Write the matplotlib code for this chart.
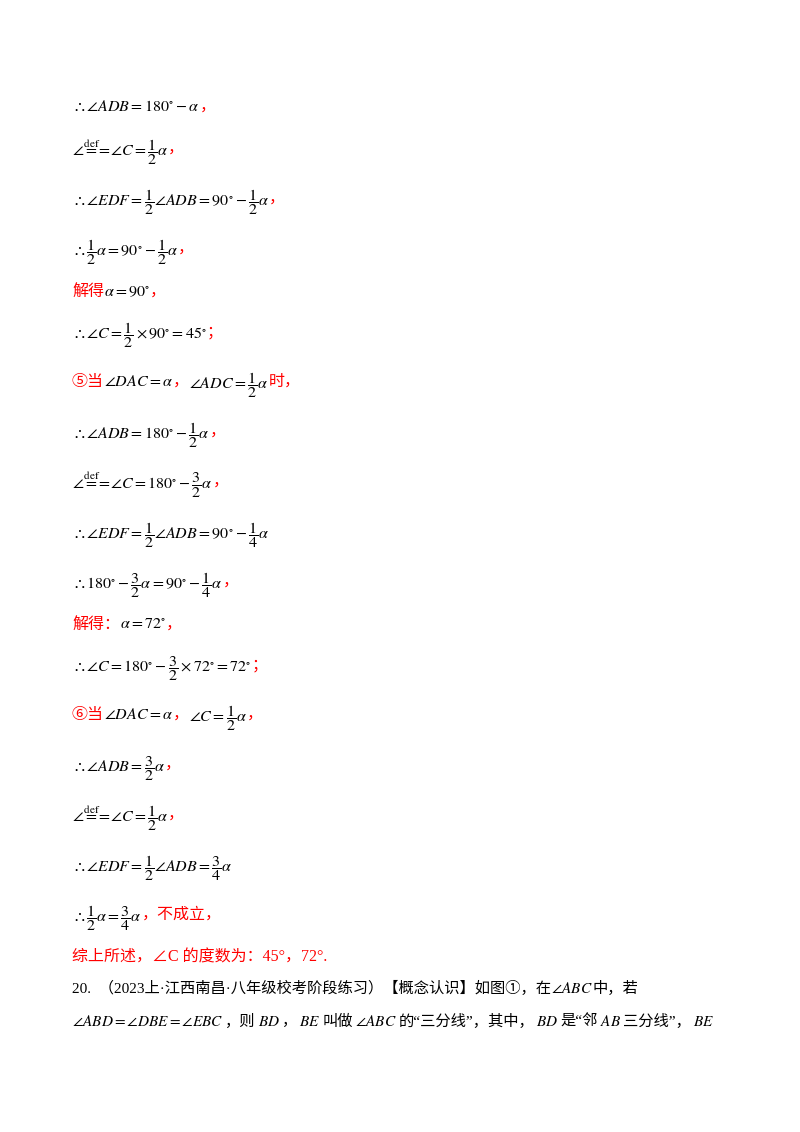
import matplotlib
matplotlib.use("Agg")
import matplotlib.pyplot as plt

plt.rcParams['mathtext.fontset'] = 'stix'
plt.rcParams['font.family'] = ['Liberation Serif', 'Noto Sans CJK SC', 'DejaVu Sans']

K = 'black'
R = '#ff0000'
D = r'\angle\overset{\mathrm{def}}{=}\!=\!\angle C'

lines = [
    [(r'$\therefore\angle ADB=180^{\circ}-\alpha$', K), ('，', R)],
    [('$' + D + r'=\dfrac{1}{2}\alpha$', K), ('，', R)],
    [(r'$\therefore\angle EDF=\dfrac{1}{2}\angle ADB=90^{\circ}-\dfrac{1}{2}\alpha$', K), ('，', R)],
    [(r'$\therefore\dfrac{1}{2}\alpha=90^{\circ}-\dfrac{1}{2}\alpha$', K), ('，', R)],
    [('解得', R), (r'$\alpha=90^{\circ}$', K), ('，', R)],
    [(r'$\therefore\angle C=\dfrac{1}{2}\times90^{\circ}=45^{\circ}$', K), ('；', R)],
    [('⑤当', R), (r'$\angle DAC=\alpha$', K), ('，', R), (r'$\angle ADC=\dfrac{1}{2}\alpha$', K), ('时，', R)],
    [(r'$\therefore\angle ADB=180^{\circ}-\dfrac{1}{2}\alpha$', K), ('，', R)],
    [('$' + D + r'=180^{\circ}-\dfrac{3}{2}\alpha$', K), ('，', R)],
    [(r'$\therefore\angle EDF=\dfrac{1}{2}\angle ADB=90^{\circ}-\dfrac{1}{4}\alpha$', K)],
    [(r'$\therefore180^{\circ}-\dfrac{3}{2}\alpha=90^{\circ}-\dfrac{1}{4}\alpha$', K), ('，', R)],
    [('解得：', R), (r'$\alpha=72^{\circ}$', K), ('，', R)],
    [(r'$\therefore\angle C=180^{\circ}-\dfrac{3}{2}\times72^{\circ}=72^{\circ}$', K), ('；', R)],
    [('⑥当', R), (r'$\angle DAC=\alpha$', K), ('，', R), (r'$\angle C=\dfrac{1}{2}\alpha$', K), ('，', R)],
    [(r'$\therefore\angle ADB=\dfrac{3}{2}\alpha$', K), ('，', R)],
    [('$' + D + r'=\dfrac{1}{2}\alpha$', K), ('，', R)],
    [(r'$\therefore\angle EDF=\dfrac{1}{2}\angle ADB=\dfrac{3}{4}\alpha$', K)],
    [(r'$\therefore\dfrac{1}{2}\alpha=\dfrac{3}{4}\alpha$', K), ('，不成立，', R)],
    [('综上所述，∠C 的度数为：45°，72°.', R)],
    [('20.  （2023上·江西南昌·八年级校考阶段练习）【概念认识】如图①，在', K), (r'$\angle ABC$', K), ('中，若', K)],
    [(r'$\angle ABD=\angle DBE=\angle EBC$', K), ('，则', K), (r'$BD$', K), ('，', K), (r'$BE$', K),
     ('叫做', K), (r'$\angle ABC$', K), ('的“三分线”，其中，', K), (r'$BD$', K), ('是“邻', K),
     (r'$AB$', K), ('三分线”，', K), (r'$BE$', K)],
]
ys = [105, 147, 197, 247, 290, 330, 380, 430, 480, 530, 580, 623, 663, 713, 763, 813, 863, 913, 955, 987, 1020]

W, H = 800, 1132
fig = plt.figure(figsize=(8, 11.32), dpi=100)
fig.patch.set_facecolor('white')
r = fig.canvas.get_renderer()
for i, (segs, y) in enumerate(zip(lines, ys)):
    x = 72
    for s, c in segs:
        fs = 11 if i >= 19 else 11.5
        t = fig.text(x / W, 1 - y / H, s, color=c, fontsize=fs, va='center_baseline', ha='left')
        x += t.get_window_extent(r).width + (2 if i == 20 else 0)
fig.savefig('out.png', dpi=100)
